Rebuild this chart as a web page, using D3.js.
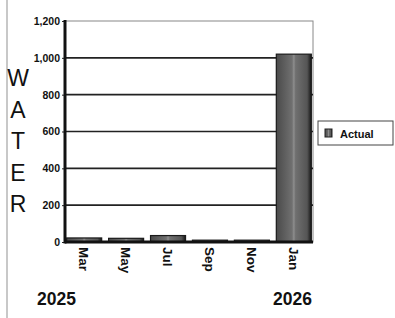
<!DOCTYPE html>
<html><head><meta charset="utf-8">
<script src="https://cdn.jsdelivr.net/npm/d3@7/dist/d3.min.js"></script>
<style>body{margin:0;background:#fff}svg{display:block}</style>
</head><body><svg id="c" width="395" height="318"></svg>
<script>
const categories = ["Mar","May","Jul","Sep","Nov","Jan"];
const actual = [22, 20, 35, 10, 10, 1020];
const yTicks = [0,200,400,600,800,1000,1200];
const yearLabels = ["2025","2026"];
const axisTitle = "WATER";
const seriesName = "Actual";

const svg = d3.select("#c");
const L=65, R=313, T=21, B=242;
const x = d3.scaleBand().domain(categories).range([L,R]).paddingInner(0.165).paddingOuter(0.04);
const y = d3.scaleLinear().domain([0,1200]).range([B,T]);
const FF = "Liberation Sans, Arial, sans-serif";

const defs = svg.append("defs");
const g = defs.append("linearGradient").attr("id","bg").attr("x1","0").attr("x2","1").attr("y1","0").attr("y2","0");
g.append("stop").attr("offset","0%").attr("stop-color","#4a4a4a");
g.append("stop").attr("offset","45%").attr("stop-color","#707070");
g.append("stop").attr("offset","50%").attr("stop-color","#8e8e8e");
g.append("stop").attr("offset","55%").attr("stop-color","#707070");
g.append("stop").attr("offset","88%").attr("stop-color","#555");
g.append("stop").attr("offset","100%").attr("stop-color","#151515");

// left page border
svg.append("line").attr("x1",7).attr("x2",7).attr("y1",0).attr("y2",318).attr("stroke","#c8c8c8").attr("stroke-width",2);

// frame
svg.append("rect").attr("x",L).attr("y",T).attr("width",R-L).attr("height",B-T).attr("fill","none").attr("stroke","#888").attr("stroke-width",1);

// gridlines
svg.append("g").selectAll("line").data(yTicks.filter(d=>d>0 && d<1200)).join("line")
  .attr("x1",L).attr("x2",R).attr("y1",d=>y(d)).attr("y2",d=>y(d))
  .attr("stroke","#222").attr("stroke-width",1.6);

// bars
svg.append("g").selectAll("rect").data(categories).join("rect")
  .attr("x",d=>x(d)).attr("width",x.bandwidth())
  .attr("y",(d,i)=>y(actual[i])).attr("height",(d,i)=>B-y(actual[i]))
  .attr("fill","url(#bg)").attr("stroke","#1a1a1a").attr("stroke-width",1.2);

// y axis
const ya = svg.append("g").attr("transform",`translate(${L},0)`)
  .call(d3.axisLeft(y).tickValues(yTicks).tickSize(3).tickFormat(d3.format(",")));
ya.select(".domain").remove();
ya.selectAll("text").attr("font-family",FF).attr("font-weight","bold").attr("font-size","10.5px").attr("fill","#111").attr("dx","1");
ya.selectAll("line").attr("stroke","#222");
svg.append("line").attr("x1",L).attr("x2",L).attr("y1",T-1).attr("y2",B+1.5).attr("stroke","#111").attr("stroke-width",3);
svg.append("line").attr("x1",L).attr("x2",R).attr("y1",B).attr("y2",B).attr("stroke","#111").attr("stroke-width",3);

// x labels
svg.append("g").selectAll("text").data(categories).join("text")
  .attr("transform",d=>`translate(${x(d)+x.bandwidth()/2},${B+5}) rotate(90)`)
  .attr("dy","0.35em").attr("text-anchor","start")
  .attr("font-family",FF).attr("font-weight","bold").attr("font-size","13.5px").attr("fill","#111")
  .text(d=>d);

// year labels
svg.append("g").selectAll("text").data(yearLabels).join("text")
  .attr("x",(d,i)=> i===0 ? 37 : 273).attr("y",305)
  .attr("font-family",FF).attr("font-weight","bold").attr("font-size","17.5px").attr("fill","#111")
  .text(d=>d);

// vertical title
svg.append("g").selectAll("text").data(axisTitle.split("")).join("text")
  .attr("x",18).attr("y",(d,i)=>86+i*31.5).attr("text-anchor","middle")
  .attr("font-family",FF).attr("font-size","23px").attr("fill","#111")
  .text(d=>d);

// legend
const lg = svg.append("g");
lg.append("rect").attr("x",318).attr("y",121).attr("width",75).attr("height",24).attr("fill","#fff").attr("stroke","#444").attr("stroke-width",1);
lg.append("rect").attr("x",325).attr("y",129).attr("width",7).attr("height",8).attr("fill","url(#bg)").attr("stroke","#222");
lg.append("text").attr("x",340).attr("y",137.5).attr("font-family",FF).attr("font-weight","bold").attr("font-size","11px").attr("fill","#111").text(seriesName);
</script></body></html>
